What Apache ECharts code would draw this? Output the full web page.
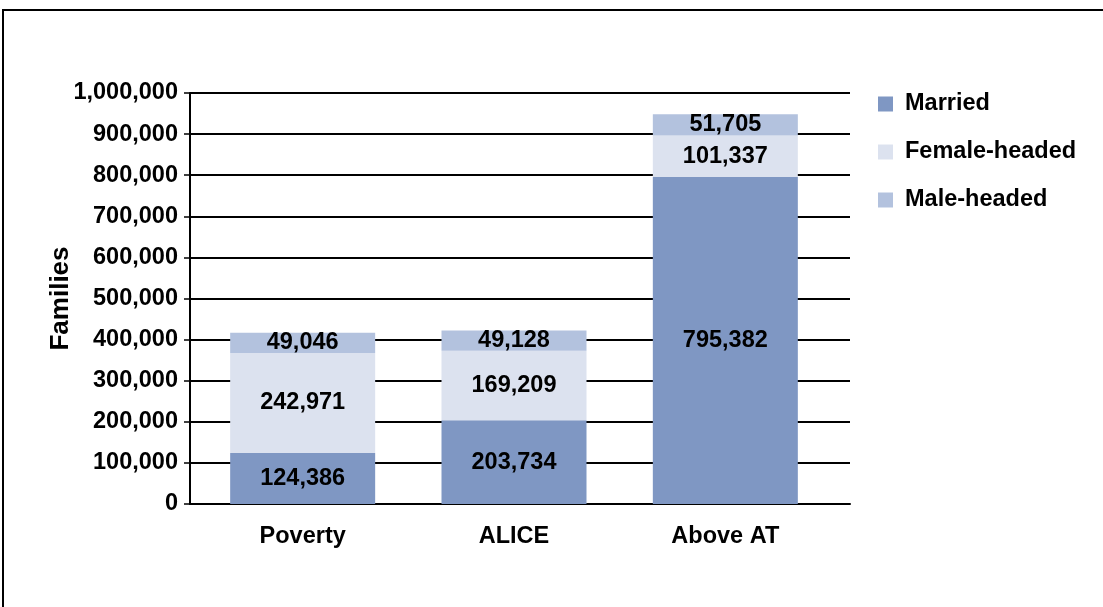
<!DOCTYPE html>
<html>
<head>
<meta charset="utf-8">
<script src="https://cdn.jsdelivr.net/npm/echarts@6/dist/echarts.min.js"></script>
<style>
  html, body { margin: 0; padding: 0; background: #fff; }
  #chart { width: 1103px; height: 607px; }
</style>
</head>
<body>
<div id="chart"></div>
<script>
// categories and series values
var categories = ['Poverty', 'ALICE', 'Above AT']
var married = [124386, 203734, 795382]
var femaleHeaded = [242971, 169209, 101337]
var maleHeaded = [49046, 49128, 51705]
var yTicks = [0, 100000, 200000, 300000, 400000, 500000, 600000, 700000, 800000, 900000, 1000000]

var fontFamily = 'Liberation Sans, Arial, sans-serif'
var yMin = yTicks[0]
var yMax = yTicks[yTicks.length - 1]
var yStep = yTicks[1] - yTicks[0]

function fmt (v) {
  return v.toLocaleString('en-US')
}

// one stacked bar series (drawn in the inner grid)
function makeSeries (name, data, color) {
  return {
    name: name,
    type: 'bar',
    stack: 'families',
    xAxisIndex: 1,
    yAxisIndex: 1,
    barWidth: 145,
    data: data,
    itemStyle: { color: color },
    label: {
      show: true,
      position: 'inside',
      color: '#000',
      fontFamily: fontFamily,
      fontWeight: 'bold',
      fontSize: 23.5,
      formatter: function (p) { return fmt(p.value) }
    }
  }
}

var chart = echarts.init(document.getElementById('chart'))
chart.setOption({
  animation: false,
  backgroundColor: '#fff',
  textStyle: { fontFamily: fontFamily },
  graphic: [{
    type: 'rect',
    shape: { x: 3, y: 10, width: 1120, height: 620 },
    style: { fill: 'none', stroke: '#000', lineWidth: 2 },
    silent: true
  }],
  legend: {
    orient: 'vertical',
    left: 873,
    top: 87,
    itemWidth: 15,
    itemHeight: 15,
    itemGap: 24,
    icon: 'rect',
    textStyle: {
      color: '#000',
      fontFamily: fontFamily,
      fontWeight: 'bold',
      fontSize: 23.5,
      padding: [0, 0, 0, 7]
    },
    data: ['Married', 'Female-headed', 'Male-headed']
  },
  // grid 0 carries the frame, grid lines and y labels; grid 1 places the bars
  grid: [
    { left: 190, right: 253, top: 93, bottom: 103 },
    { left: 197, right: 272, top: 93, bottom: 103 }
  ],
  xAxis: [{
    type: 'category',
    gridIndex: 0,
    data: categories,
    axisLine: { lineStyle: { color: '#000', width: 2 } },
    axisTick: { show: false },
    axisLabel: { show: false }
  }, {
    type: 'category',
    gridIndex: 1,
    data: categories,
    axisLine: { show: false },
    axisTick: { show: false },
    axisLabel: {
      color: '#000',
      fontFamily: fontFamily,
      fontWeight: 'bold',
      fontSize: 23.5,
      margin: 21
    }
  }],
  yAxis: [{
    type: 'value',
    gridIndex: 0,
    min: yMin,
    max: yMax,
    interval: yStep,
    name: 'Families',
    nameLocation: 'middle',
    nameGap: 116,
    nameMoveOverlap: false,
    nameRotate: 90,
    nameTextStyle: {
      color: '#000',
      fontFamily: fontFamily,
      fontWeight: 'bold',
      fontSize: 26
    },
    axisLine: { show: true, lineStyle: { color: '#000', width: 2 } },
    axisTick: { show: true, length: 6, lineStyle: { color: '#000', width: 1.5 } },
    axisLabel: {
      color: '#000',
      fontFamily: fontFamily,
      fontWeight: 'bold',
      fontSize: 23.5,
      margin: 12,
      formatter: function (v) { return fmt(v) }
    },
    splitLine: { lineStyle: { color: '#000', width: 2 } }
  }, {
    type: 'value',
    gridIndex: 1,
    min: yMin,
    max: yMax,
    interval: yStep,
    show: false,
    splitLine: { show: false }
  }],
  series: [
    makeSeries('Married', married, '#7f97c3'),
    makeSeries('Female-headed', femaleHeaded, '#dce2ef'),
    makeSeries('Male-headed', maleHeaded, '#b3c2de')
  ]
})
</script>
</body>
</html>
